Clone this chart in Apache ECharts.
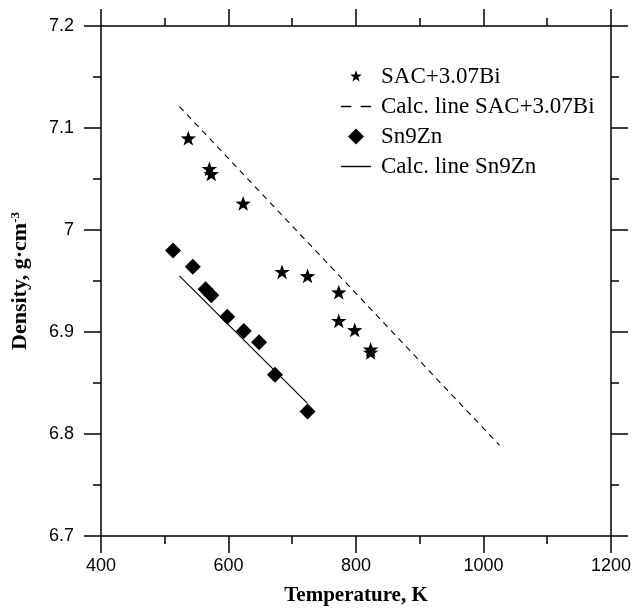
<!DOCTYPE html>
<html>
<head>
<meta charset="utf-8">
<script src="https://cdn.jsdelivr.net/npm/echarts@6/dist/echarts.min.js"></script>
<style>
html,body{margin:0;padding:0;background:#fff;}
#chart{width:634px;height:611px;}
</style>
</head>
<body>
<div id="chart"></div>
<script>
// ---- data ----
var sacTemp    = [537, 570, 573, 623, 684, 724, 773, 773, 798, 823, 823];
var sacDensity = [7.090, 7.060, 7.055, 7.026, 6.959, 6.955, 6.939, 6.911, 6.902, 6.883, 6.880];

var znTemp    = [513, 544, 564, 573, 598, 624, 648, 673, 724];
var znDensity = [6.980, 6.964, 6.942, 6.936, 6.915, 6.901, 6.890, 6.858, 6.822];

var sacCalcTemp    = [523, 1025];
var sacCalcDensity = [7.121, 6.789];

var znCalcTemp    = [523, 724];
var znCalcDensity = [6.955, 6.830];

var seriesNames = ['SAC+3.07Bi', 'Calc. line SAC+3.07Bi', 'Sn9Zn', 'Calc. line Sn9Zn'];

function pairs(xs, ys) {
  return xs.map(function (x, i) { return [x, ys[i]]; });
}

var STAR = 'path://M0,-10 L2.35,-3.24 L9.51,-3.09 L3.8,1.24 L5.88,8.09 L0,4 L-5.88,8.09 L-3.8,1.24 L-9.51,-3.09 L-2.35,-3.24 Z';
var LEGEND_STAR = 'path://M-13,-13 L-13,-12.99 L-12.99,-13 Z M13,13 L13,12.99 L12.99,13 Z M0,-10 L2.35,-3.24 L9.51,-3.09 L3.8,1.24 L5.88,8.09 L0,4 L-5.88,8.09 L-3.8,1.24 L-9.51,-3.09 L-2.35,-3.24 Z';
var LEGEND_DIAMOND = 'path://M0,-8 L8,0 L0,8 L-8,0 Z';
var LEGEND_DASH = 'path://M0,0 L9,0 L9,1.4 L0,1.4 Z M17,0 L26,0 L26,1.4 L17,1.4 Z';
var LEGEND_SOLID = 'path://M0,0 L30,0 L30,1.4 L0,1.4 Z';

var chart = echarts.init(document.getElementById('chart'), null, {renderer: 'canvas'});

var axisLineStyle = {color: '#000', width: 1.5};
var labelStyle = {color: '#000', fontFamily: 'Liberation Sans, Arial, sans-serif', fontSize: 18};
function plainNum(v) { return String(Math.round(v * 1000) / 1000); }

function xAxisCfg(pos, withLabels) {
  return {
    type: 'value', position: pos, min: 400, max: 1200, interval: 200,
    axisLine: {show: true, onZero: false, lineStyle: axisLineStyle},
    axisTick: {show: true, inside: false, length: 17, lineStyle: {color: '#000', width: 1.5}},
    minorTick: {show: true, splitNumber: 2, length: 8, lineStyle: {color: '#000', width: 1.5}},
    axisLabel: withLabels ? Object.assign({show: true, margin: 21, formatter: plainNum}, labelStyle) : {show: false},
    splitLine: {show: false},
    minorSplitLine: {show: false},
    name: withLabels ? 'Temperature, K' : '',
    nameLocation: 'middle',
    nameGap: 49,
    nameTextStyle: {color: '#000', fontFamily: 'Liberation Serif, Times New Roman, serif', fontWeight: 'bold', fontSize: 21}
  };
}
function yAxisCfg(pos, withLabels) {
  return {
    type: 'value', position: pos, min: 6.7, max: 7.2, interval: 0.1,
    axisLine: {show: true, onZero: false, lineStyle: axisLineStyle},
    axisTick: {show: true, inside: false, length: 17, lineStyle: {color: '#000', width: 1.5}},
    minorTick: {show: true, splitNumber: 2, length: 8, lineStyle: {color: '#000', width: 1.5}},
    axisLabel: withLabels ? Object.assign({show: true, margin: 27, formatter: plainNum}, labelStyle) : {show: false},
    splitLine: {show: false},
    minorSplitLine: {show: false},
    name: withLabels ? 'Density, g·cm{sup|-3}' : '',
    nameLocation: 'middle',
    nameGap: 70,
    nameRotate: 90,
    nameTextStyle: {
      color: '#000', fontFamily: 'Liberation Serif, Times New Roman, serif', fontWeight: 'bold', fontSize: 22,
      rich: {
        sup: {fontFamily: 'Liberation Serif, Times New Roman, serif', fontWeight: 'bold', fontSize: 13, verticalAlign: 'top', padding: [0, 0, 8, 0], color: '#000'}
      }
    }
  };
}

var option = {
  backgroundColor: '#fff',
  animation: false,
  grid: {left: 101, top: 26, width: 512, height: 515},
  xAxis: [xAxisCfg('bottom', true), xAxisCfg('top', false)],
  yAxis: [yAxisCfg('left', true), yAxisCfg('right', false)],
  legend: {
    orient: 'vertical',
    left: 341, top: 65, padding: 0,
    itemWidth: 30, itemHeight: 16, itemGap: 7,
    symbolKeepAspect: true,
    textStyle: {color: '#000', fontFamily: 'Liberation Serif, Times New Roman, serif', fontSize: 23, padding: [0, 0, 0, 5]},
    data: [
      {name: seriesNames[0], icon: LEGEND_STAR},
      {name: seriesNames[1], icon: LEGEND_DASH},
      {name: seriesNames[2], icon: LEGEND_DIAMOND},
      {name: seriesNames[3], icon: LEGEND_SOLID}
    ]
  },
  series: [
    {
      name: seriesNames[0], type: 'scatter', symbol: STAR, symbolSize: 15.5, symbolKeepAspect: true,
      itemStyle: {color: '#000', opacity: 1},
      data: pairs(sacTemp, sacDensity)
    },
    {
      name: seriesNames[1], type: 'line', symbol: 'none', showSymbol: false,
      lineStyle: {color: '#000', width: 1.1, type: [6, 5]},
      itemStyle: {color: '#000'},
      data: pairs(sacCalcTemp, sacCalcDensity)
    },
    {
      name: seriesNames[2], type: 'scatter', symbol: 'diamond', symbolSize: 16,
      itemStyle: {color: '#000', opacity: 1},
      data: pairs(znTemp, znDensity)
    },
    {
      name: seriesNames[3], type: 'line', symbol: 'none', showSymbol: false,
      lineStyle: {color: '#000', width: 1.1},
      itemStyle: {color: '#000'},
      data: pairs(znCalcTemp, znCalcDensity)
    }
  ]
};
chart.setOption(option);
</script>
</body>
</html>
